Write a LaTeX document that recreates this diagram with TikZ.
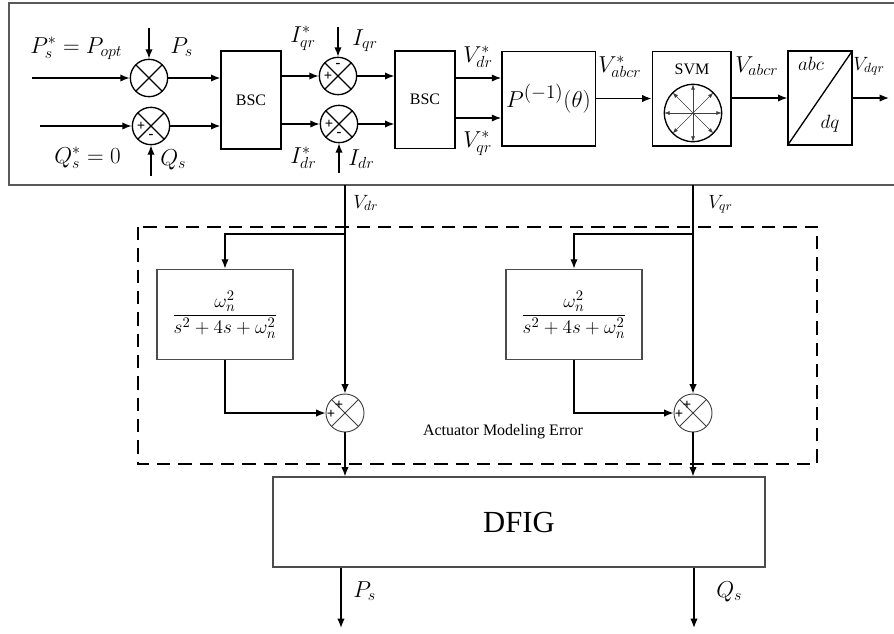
\documentclass[tikz,border=0pt]{standalone}
\usepackage[no-math]{fontspec}
\setmainfont{Liberation Serif}
\usetikzlibrary{arrows.meta,positioning}

\tikzset{
  sig/.style={-{Latex[length=7pt,width=5.5pt]}, line width=1pt},
  blk/.style={draw, line width=1pt, inner sep=0pt},
  tfbox/.style={draw=black!70, line width=0.8pt, minimum width=102pt, minimum height=68pt, font=\fontsize{15}{18}\selectfont},
  sumj/.style={draw, circle, line width=1pt, minimum size=28pt, inner sep=0pt,
    path picture={\draw[line width=1pt] (path picture bounding box.north west) -- (path picture bounding box.south east)
      (path picture bounding box.north east) -- (path picture bounding box.south west);}},
  sumjb/.style={draw=black!75, circle, line width=0.7pt, minimum size=28.5pt, inner sep=0pt,
    path picture={\draw[black!75, line width=0.7pt] (path picture bounding box.north west) -- (path picture bounding box.south east)
      (path picture bounding box.north east) -- (path picture bounding box.south west);}},
  lbl/.style={font=\fontsize{17}{19}\selectfont, inner sep=0pt},
  slbl/.style={font=\fontsize{14}{16}\selectfont, inner sep=0pt},
  sgn/.style={font=\fontsize{11}{11}\selectfont\bfseries, inner sep=0pt},
  errbox/.style={dash pattern=on 10pt off 6pt, line width=1pt}
}

\begin{document}
\begin{tikzpicture}[x=0.75pt,y=-0.75pt]
\useasboundingbox (0,0) rectangle (894,633);
% controller frame
\draw[black!65, line width=1.1pt] (894,3) -- (9,3) -- (9,185) -- (894,185);

% power loops
\node[sumj] (sp) at (149,78) {};
\node[sumj] (sq) at (151,126) {};
\node[sgn] at ([xshift=-7.5pt]sq.center) {+};
\node[sgn] at ([yshift=-8pt]sq.center) {-};
\coordinate (pin) at (32,78);
\coordinate (qin) at (40,126);
\coordinate (psin) at (149,28);
\coordinate (qsin) at (151,176);
\draw[sig] (pin) -- (sp);
\draw[sig] (qin) -- (sq);
\draw[sig] (psin) -- (sp);
\draw[sig] (qsin) -- (sq);
\node[lbl, anchor=base west] (lpref) at (30,53) {$P_s^*=P_{opt}$};
\node[lbl, anchor=base west] (lps) at (170,53) {$P_s$};
\node[lbl, anchor=base west] (lqref) at (54,163) {$Q_s^*=0$};
\node[lbl, anchor=base west] (lqs) at (160,165) {$Q_s$};

\node[blk, minimum width=45pt, minimum height=73.5pt, font=\fontsize{12}{14}\selectfont] (bsc1) at (251,100) {BSC};
\draw[sig] (sp) -- (sp -| bsc1.west);
\draw[sig] (sq) -- (sq -| bsc1.west);

% current loops
\node[sumj] (siq) at (338,76) {};
\node[sumj] (sid) at (339,124) {};
\node[sgn] at ([xshift=-7.5pt]siq.center) {+};
\node[sgn] at ([yshift=8pt]siq.center) {-};
\node[sgn] at ([xshift=-7.5pt]sid.center) {+};
\node[sgn] at ([yshift=-8pt]sid.center) {-};
\coordinate (iqin) at (338,27);
\coordinate (idin) at (339,173);
\draw[sig] (bsc1.east |- siq) -- (siq);
\draw[sig] (bsc1.east |- sid) -- (sid);
\draw[sig] (iqin) -- (siq);
\draw[sig] (idin) -- (sid);
\node[lbl, anchor=base west] (liqref) at (290,42) {$I_{qr}^*$};
\node[lbl, anchor=base west] (liq) at (352,45) {$I_{qr}$};
\node[lbl, anchor=base west] (lidref) at (290,163) {$I_{dr}^*$};
\node[lbl, anchor=base west] (lid) at (348,165) {$I_{dr}$};

\node[blk, minimum width=45pt, minimum height=73pt, font=\fontsize{12}{14}\selectfont] (bsc2) at (425,99.5) {BSC};
\draw[sig] (siq) -- (siq -| bsc2.west);
\draw[sig] (sid) -- (sid -| bsc2.west);

% inverse Park, SVM, abc/dq
\node[blk, minimum width=70pt, minimum height=71pt, font=\fontsize{19}{21}\selectfont] (pblk) at (548.5,98.5) {$P^{(-1)}(\theta)$};
\coordinate (vd) at (480,78);
\coordinate (vq) at (480,118);
\draw[sig] (vd -| bsc2.east) -- (vd -| pblk.west);
\draw[sig] (vq -| bsc2.east) -- (vq -| pblk.west);
\node[lbl, anchor=base west] (lvdref) at (463,62) {$V_{dr}^*$};
\node[lbl, anchor=base west] (lvqref) at (463,147) {$V_{qr}^*$};

\node[blk, minimum width=59pt, minimum height=71pt] (svm) at (691.5,98.5) {};
\node[font=\fontsize{12}{14}\selectfont] (svmt) at (692,69) {SVM};
\node[draw, circle, line width=1pt, minimum size=43pt, inner sep=0pt] (svmc) at (693,113) {};
\foreach \a in {0,45,...,315}
  \draw[-{Latex[length=4pt,width=3pt]}, black!75, line width=0.5pt, shorten >=0.5pt] (svmc.center) -- (svmc.\a);
\draw[sig] (pblk.east |- svm) -- (svm.west);
\node[lbl, anchor=base west] (lvabcref) at (598,72) {$V_{abcr}^*$};

\node[blk, minimum width=48pt, minimum height=70.5pt] (abcdq) at (820,98) {};
\draw[line width=1pt] (abcdq.south west) -- (abcdq.north east);
\node[font=\fontsize{15}{17}\selectfont] (labc) at (811,64) {$abc$};
\node[font=\fontsize{15}{17}\selectfont] (ldq) at (830,124) {$dq$};
\draw[sig] (svm.east |- abcdq) -- (abcdq.west);
\node[lbl, anchor=base west] (lvabc) at (735,72) {$V_{abcr}$};
\coordinate (vdqout) at (889,98);
\draw[sig] (abcdq.east) -- (vdqout);
\node[slbl, anchor=base west] (lvdq) at (853,70) {$V_{dqr}$};

% actuator modeling error
\draw[errbox] (138,227) rectangle (817,464);
\node[font=\fontsize{12}{14}\selectfont] (act) at (503,432) {Actuator Modeling Error};

\node[tfbox] (tf1) at (225,314.5) {$\displaystyle\frac{\omega_{n}^{2}}{s^{2}+4s+\omega_{n}^{2}}$};
\node[tfbox] (tf2) at (574,314.5) {$\displaystyle\frac{\omega_{n}^{2}}{s^{2}+4s+\omega_{n}^{2}}$};
\node[sumjb] (sd) at (345,413) {};
\node[sumjb] (sqq) at (693,413) {};
\foreach \s in {sd,sqq}{
  \node[sgn] at ([xshift=-10.5pt,yshift=-1pt]\s.center) {+};
  \node[sgn] at ([xshift=-4.5pt,yshift=5.5pt]\s.center) {+};
}

\node[draw=black!70, line width=0.8pt, minimum width=369pt, minimum height=67.5pt, font=\fontsize{23}{26}\selectfont] (dfig) at (519,522) {DFIG};

\coordinate (vdtop) at (345,185);
\coordinate (bd) at (345,234);
\coordinate (vqtop) at (693,185);
\coordinate (bq) at (693,234);
\draw[sig] (vdtop) -- (sd);
\draw[sig] (bd) -| (tf1.north);
\draw[sig] (tf1.south) |- (sd.west);
\draw[sig] (sd) -- (sd |- dfig.north);
\draw[sig] (vqtop) -- (sqq);
\draw[sig] (bq) -| (tf2.north);
\draw[sig] (tf2.south) |- (sqq.west);
\draw[sig] (sqq) -- (sqq |- dfig.north);
\node[slbl, anchor=base west] (lvd) at (353,208) {$V_{dr}$};
\node[slbl, anchor=base west] (lvq) at (708,208) {$V_{qr}$};

% outputs
\coordinate (psend) at (341,628);
\coordinate (qsend) at (694,628);
\draw[sig] (psend |- dfig.south) -- (psend);
\draw[sig] (qsend |- dfig.south) -- (qsend);
\node[lbl, anchor=base west] (lpso) at (353,597) {$P_s$};
\node[lbl, anchor=base west] (lqso) at (716,597) {$Q_s$};
\end{tikzpicture}
\end{document}
